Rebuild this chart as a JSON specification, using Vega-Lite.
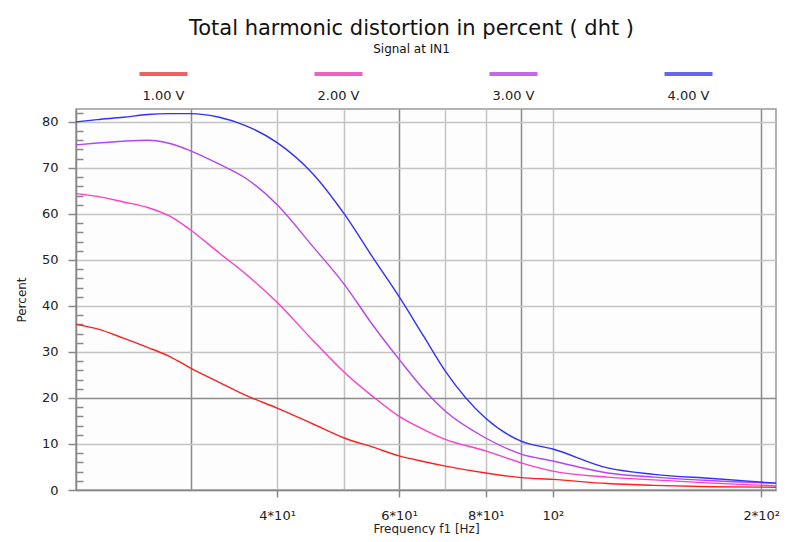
{
  "$schema": "https://vega.github.io/schema/vega-lite/v6.json",
  "background": "white",
  "padding": {"left": 14, "top": 18, "right": 0, "bottom": 0},
  "spacing": 0,
  "title": {
    "text": "Total harmonic distortion in percent  ( dht )",
    "subtitle": "Signal at IN1",
    "anchor": "middle",
    "dx": 14,
    "font": "DejaVu Sans",
    "fontSize": 21,
    "fontWeight": "normal",
    "color": "#111",
    "subtitleFont": "DejaVu Sans",
    "subtitleFontSize": 12,
    "subtitleColor": "#111",
    "subtitlePadding": 5,
    "offset": 13
  },
  "datasets": {
    "legend": [
      {"series": "1.00 V"},
      {"series": "2.00 V"},
      {"series": "3.00 V"},
      {"series": "4.00 V"}
    ],
    "curves": [
      {"series": "1.00 V", "f": 20.5, "v": 36.0},
      {"series": "1.00 V", "f": 22, "v": 35.0},
      {"series": "1.00 V", "f": 24, "v": 33.0},
      {"series": "1.00 V", "f": 26, "v": 31.0},
      {"series": "1.00 V", "f": 28, "v": 29.0},
      {"series": "1.00 V", "f": 30, "v": 26.5},
      {"series": "1.00 V", "f": 33, "v": 23.4},
      {"series": "1.00 V", "f": 36, "v": 20.6},
      {"series": "1.00 V", "f": 40, "v": 17.8},
      {"series": "1.00 V", "f": 45, "v": 14.4},
      {"series": "1.00 V", "f": 50, "v": 11.3},
      {"series": "1.00 V", "f": 55, "v": 9.3},
      {"series": "1.00 V", "f": 60, "v": 7.4},
      {"series": "1.00 V", "f": 65, "v": 6.2},
      {"series": "1.00 V", "f": 70, "v": 5.2},
      {"series": "1.00 V", "f": 80, "v": 3.7},
      {"series": "1.00 V", "f": 90, "v": 2.7},
      {"series": "1.00 V", "f": 100, "v": 2.3},
      {"series": "1.00 V", "f": 120, "v": 1.4},
      {"series": "1.00 V", "f": 140, "v": 1.0},
      {"series": "1.00 V", "f": 170, "v": 0.7},
      {"series": "1.00 V", "f": 210, "v": 0.6},
      {"series": "2.00 V", "f": 20.5, "v": 64.4},
      {"series": "2.00 V", "f": 22, "v": 63.8},
      {"series": "2.00 V", "f": 24, "v": 62.6},
      {"series": "2.00 V", "f": 26, "v": 61.4},
      {"series": "2.00 V", "f": 28, "v": 59.5},
      {"series": "2.00 V", "f": 30, "v": 56.5},
      {"series": "2.00 V", "f": 33, "v": 51.5},
      {"series": "2.00 V", "f": 36, "v": 47.0},
      {"series": "2.00 V", "f": 40, "v": 40.8},
      {"series": "2.00 V", "f": 45, "v": 32.6},
      {"series": "2.00 V", "f": 50, "v": 25.6},
      {"series": "2.00 V", "f": 55, "v": 20.3},
      {"series": "2.00 V", "f": 60, "v": 16.0},
      {"series": "2.00 V", "f": 65, "v": 13.2},
      {"series": "2.00 V", "f": 70, "v": 11.0},
      {"series": "2.00 V", "f": 80, "v": 8.5},
      {"series": "2.00 V", "f": 90, "v": 5.9},
      {"series": "2.00 V", "f": 100, "v": 4.1},
      {"series": "2.00 V", "f": 120, "v": 2.8},
      {"series": "2.00 V", "f": 140, "v": 2.2},
      {"series": "2.00 V", "f": 170, "v": 1.5},
      {"series": "2.00 V", "f": 210, "v": 0.9},
      {"series": "3.00 V", "f": 20.5, "v": 75.0},
      {"series": "3.00 V", "f": 22, "v": 75.4},
      {"series": "3.00 V", "f": 24, "v": 75.8},
      {"series": "3.00 V", "f": 26, "v": 76.0},
      {"series": "3.00 V", "f": 28, "v": 75.3},
      {"series": "3.00 V", "f": 30, "v": 73.7},
      {"series": "3.00 V", "f": 33, "v": 70.8},
      {"series": "3.00 V", "f": 36, "v": 67.8},
      {"series": "3.00 V", "f": 40, "v": 62.0},
      {"series": "3.00 V", "f": 45, "v": 53.0},
      {"series": "3.00 V", "f": 50, "v": 44.7},
      {"series": "3.00 V", "f": 55, "v": 35.8},
      {"series": "3.00 V", "f": 60, "v": 28.4},
      {"series": "3.00 V", "f": 65, "v": 22.0},
      {"series": "3.00 V", "f": 70, "v": 17.1},
      {"series": "3.00 V", "f": 80, "v": 11.3},
      {"series": "3.00 V", "f": 90, "v": 7.8},
      {"series": "3.00 V", "f": 100, "v": 6.3},
      {"series": "3.00 V", "f": 120, "v": 3.7},
      {"series": "3.00 V", "f": 140, "v": 2.8},
      {"series": "3.00 V", "f": 170, "v": 2.0},
      {"series": "3.00 V", "f": 210, "v": 1.5},
      {"series": "4.00 V", "f": 20.5, "v": 80.0},
      {"series": "4.00 V", "f": 22, "v": 80.5},
      {"series": "4.00 V", "f": 24, "v": 81.0},
      {"series": "4.00 V", "f": 26, "v": 81.6},
      {"series": "4.00 V", "f": 28, "v": 81.8},
      {"series": "4.00 V", "f": 30, "v": 81.8},
      {"series": "4.00 V", "f": 33, "v": 81.0},
      {"series": "4.00 V", "f": 36, "v": 79.2},
      {"series": "4.00 V", "f": 40, "v": 75.5},
      {"series": "4.00 V", "f": 45, "v": 68.8},
      {"series": "4.00 V", "f": 50, "v": 60.0},
      {"series": "4.00 V", "f": 55, "v": 50.5},
      {"series": "4.00 V", "f": 60, "v": 42.0},
      {"series": "4.00 V", "f": 65, "v": 33.6},
      {"series": "4.00 V", "f": 70, "v": 25.8},
      {"series": "4.00 V", "f": 80, "v": 15.6},
      {"series": "4.00 V", "f": 90, "v": 10.6},
      {"series": "4.00 V", "f": 100, "v": 8.9},
      {"series": "4.00 V", "f": 120, "v": 4.8},
      {"series": "4.00 V", "f": 140, "v": 3.4},
      {"series": "4.00 V", "f": 170, "v": 2.5},
      {"series": "4.00 V", "f": 210, "v": 1.5}
    ]
  },
  "vconcat": [
    {
      "width": 700,
      "height": 40,
      "view": {"stroke": null, "fill": null},
      "data": {"name": "legend"},
      "layer": [
        {
          "mark": {"type": "tick", "orient": "horizontal", "size": 48, "thickness": 4, "yOffset": -14},
          "encoding": {
            "x": {"field": "series", "type": "nominal", "sort": null, "axis": null, "scale": {"paddingInner": 0, "paddingOuter": 0}},
            "color": {"field": "series", "type": "nominal", "legend": null,
              "scale": {"domain": ["1.00 V", "2.00 V", "3.00 V", "4.00 V"], "range": ["#e82020", "#e020b0", "#a828e0", "#2424e8"]}}
          }
        },
        {
          "mark": {"type": "text", "dy": 8, "font": "DejaVu Sans", "fontSize": 13, "color": "#222"},
          "encoding": {
            "x": {"field": "series", "type": "nominal", "sort": null, "axis": null, "scale": {"paddingInner": 0, "paddingOuter": 0}},
            "text": {"field": "series", "type": "nominal"}
          }
        }
      ]
    },
    {
      "width": 700,
      "height": 381,
      "view": {"stroke": "#999", "strokeWidth": 1.5, "fill": "#fcfdfc"},
      "data": {"name": "curves"},
      "mark": {"type": "line", "strokeWidth": 1.4, "interpolate": "monotone"},
      "encoding": {
        "x": {
          "field": "f", "type": "quantitative",
          "scale": {"type": "log", "domain": [20.5, 210], "nice": false},
          "title": "Frequency f1  [Hz]",
          "axis": {
            "values": [30, 40, 50, 60, 70, 80, 90, 100, 200],
            "labelExpr": "datum.value == 40 ? '4*10¹' : datum.value == 60 ? '6*10¹' : datum.value == 80 ? '8*10¹' : datum.value == 100 ? '10²' : datum.value == 200 ? '2*10²' : ''",
            "gridColor": {"condition": {"test": "datum.value == 30 || datum.value == 60 || datum.value == 90 || datum.value == 200", "value": "#8c8c8c"}, "value": "#c4c4c4"},
            "tickOpacity": {"condition": {"test": "datum.value == 40 || datum.value == 60 || datum.value == 80 || datum.value == 100 || datum.value == 200", "value": 1}, "value": 0},
            "tickSize": 7,
            "labelPadding": 12,
            "titlePadding": 1
          }
        },
        "y": {
          "field": "v", "type": "quantitative",
          "scale": {"domain": [0, 82.8], "nice": false, "zero": false},
          "title": "Percent",
          "axis": {
            "values": [0, 2, 4, 6, 8, 10, 12, 14, 16, 18, 20, 22, 24, 26, 28, 30, 32, 34, 36, 38, 40, 42, 44, 46, 48, 50, 52, 54, 56, 58, 60, 62, 64, 66, 68, 70, 72, 74, 76, 78, 80, 82],
            "labelExpr": "datum.value % 10 == 0 ? datum.value : ''",
            "tickSize": {"condition": {"test": "datum.value % 10 == 0", "value": 8}, "value": -7},
            "gridOpacity": {"condition": {"test": "datum.value % 10 == 0", "value": 1}, "value": 0},
            "gridColor": {"condition": {"test": "datum.value == 20", "value": "#8c8c8c"}, "value": "#c4c4c4"},
            "labelPadding": 10,
            "titlePadding": 13
          }
        },
        "color": {"field": "series", "type": "nominal", "legend": null,
          "scale": {"domain": ["1.00 V", "2.00 V", "3.00 V", "4.00 V"], "range": ["#ff2020", "#ff3cc8", "#b444f4", "#3030ff"]}}
      }
    }
  ],
  "resolve": {"scale": {"color": "independent"}},
  "config": {
    "axis": {
      "labelFont": "DejaVu Sans",
      "labelFontSize": 13,
      "labelColor": "#222",
      "titleFont": "DejaVu Sans",
      "titleFontSize": 12,
      "titleFontWeight": "normal",
      "titleColor": "#222",
      "domainColor": "#888",
      "domainWidth": 1.5,
      "tickColor": "#888",
      "tickWidth": 1.5,
      "gridWidth": 1.5
    }
  }
}
